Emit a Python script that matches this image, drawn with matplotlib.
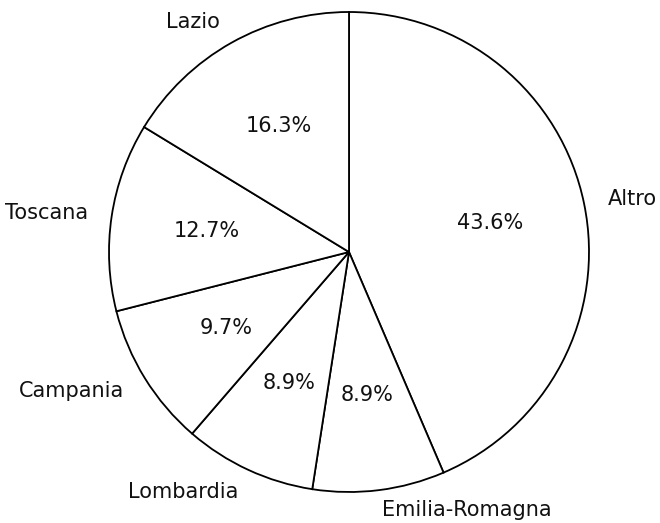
import matplotlib

matplotlib.use("Agg")
import matplotlib.pyplot as plt

REGIONS = ["Altro", "Emilia-Romagna", "Lombardia", "Campania", "Toscana", "Lazio"]
SHARES = [43.6, 8.9, 8.9, 9.7, 12.7, 16.3]

W, H = 660, 523
R, CX, CY = 240, 349, 252

fig = plt.figure(figsize=(W / 100, H / 100), dpi=100)
ax = fig.add_axes([(CX - R) / W, (H - CY - R) / H, 2 * R / W, 2 * R / H])
wedges, labels, pcts = ax.pie(
    SHARES, labels=REGIONS, startangle=90, counterclock=False,
    autopct="%1.1f%%", pctdistance=0.6, labeldistance=1.1,
    colors=["white"] * len(SHARES),
    wedgeprops=dict(edgecolor="black", linewidth=1.3),
    textprops=dict(fontsize=15, color="#111111"))
# keep the bottom label inside the canvas
labels[1].set_y(labels[1].get_position()[1] + 0.015)
ax.set_xlim(-1, 1)
ax.set_ylim(-1, 1)
ax.set_aspect("equal")
fig.savefig("out.png", dpi=100)
